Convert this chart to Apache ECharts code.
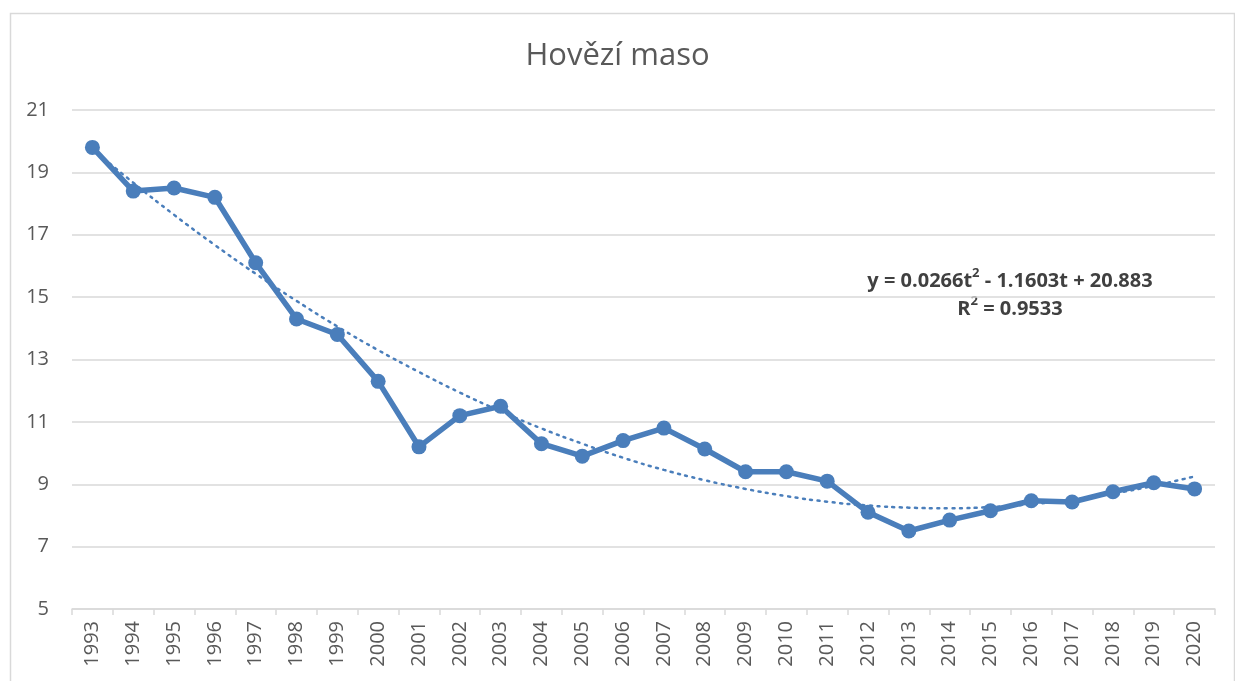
<!DOCTYPE html>
<html><head><meta charset="utf-8">
<script src="https://cdn.jsdelivr.net/npm/echarts@6/dist/echarts.min.js"></script>
<style>html,body{margin:0;padding:0;background:#fff}#c{width:1235px;height:681px}</style>
</head><body><div id="c"></div>
<script>
const years = ['1993','1994','1995','1996','1997','1998','1999','2000','2001','2002','2003','2004','2005','2006','2007','2008','2009','2010','2011','2012','2013','2014','2015','2016','2017','2018','2019','2020'];
const values = [19.8,18.4,18.5,18.2,16.1,14.3,13.8,12.3,10.2,11.2,11.5,10.3,9.9,10.4,10.8,10.13,9.4,9.4,9.1,8.1,7.5,7.85,8.15,8.47,8.43,8.76,9.05,8.85];
const trend = [19.75,18.67,17.64,16.67,15.75,14.88,14.06,13.30,12.60,11.94,11.34,10.79,10.30,9.85,9.46,9.13,8.85,8.62,8.44,8.32,8.25,8.23,8.27,8.36,8.50,8.70,8.95,9.25];
const titleText = 'Hovězí maso';
const eqLine1 = 'y = 0.0266t{s|2} - 1.1603t + 20.883';
const eqLine2 = 'R{s|2} = 0.9533';

const chart = echarts.init(document.getElementById('c'), null, {renderer:'canvas'});
const font = '"Open Sans", "Noto Sans", sans-serif';
chart.setOption({
  animation:false,
  backgroundColor:'#fff',
  title:{text:titleText,left:'center',top:36,textStyle:{fontFamily:font,fontSize:31,fontWeight:'normal',color:'#595959'}},
  graphic:[
    {type:'rect',id:'border',left:8,top:11,shape:{width:1224,height:690},style:{fill:'none',stroke:'#d9d9d9',lineWidth:1.5},silent:true},
    {type:'text',id:'eq',x:1010,y:295,style:{text:eqLine1+'\n'+eqLine2,align:'center',verticalAlign:'middle',
      font:'bold 20px '+font,fill:'#404040',lineHeight:28,
      rich:{s:{fontSize:13,verticalAlign:'top',fontWeight:'bold',fill:'#404040',fontFamily:font,lineHeight:14}}},silent:true}
  ],
  grid:{left:72,right:20,top:110,bottom:72,containLabel:false},
  xAxis:{type:'category',data:years,boundaryGap:true,
    axisLine:{lineStyle:{color:'#d9d9d9',width:1.5}},
    axisTick:{show:true,alignWithLabel:false,length:6,lineStyle:{color:'#d9d9d9',width:1.5}},
    axisLabel:{rotate:90,fontFamily:font,fontSize:20,color:'#595959',margin:12,interval:0},
    splitLine:{show:false}},
  yAxis:{type:'value',min:5,max:21,interval:2,
    axisLine:{show:false},axisTick:{show:false},
    axisLabel:{fontFamily:font,fontSize:20,color:'#595959',margin:23},
    splitLine:{lineStyle:{color:'#d9d9d9',width:1.5}}},
  series:[
    {type:'line',data:values,symbol:'circle',symbolSize:15,
      lineStyle:{color:'#4a7ebb',width:5.5},itemStyle:{color:'#4a7ebb'},z:3},
    {type:'line',data:trend,symbol:'none',smooth:true,
      lineStyle:{color:'#4a7ebb',width:2.5,type:[2,5.5],cap:'round'},z:2}
  ]
});
</script></body></html>
